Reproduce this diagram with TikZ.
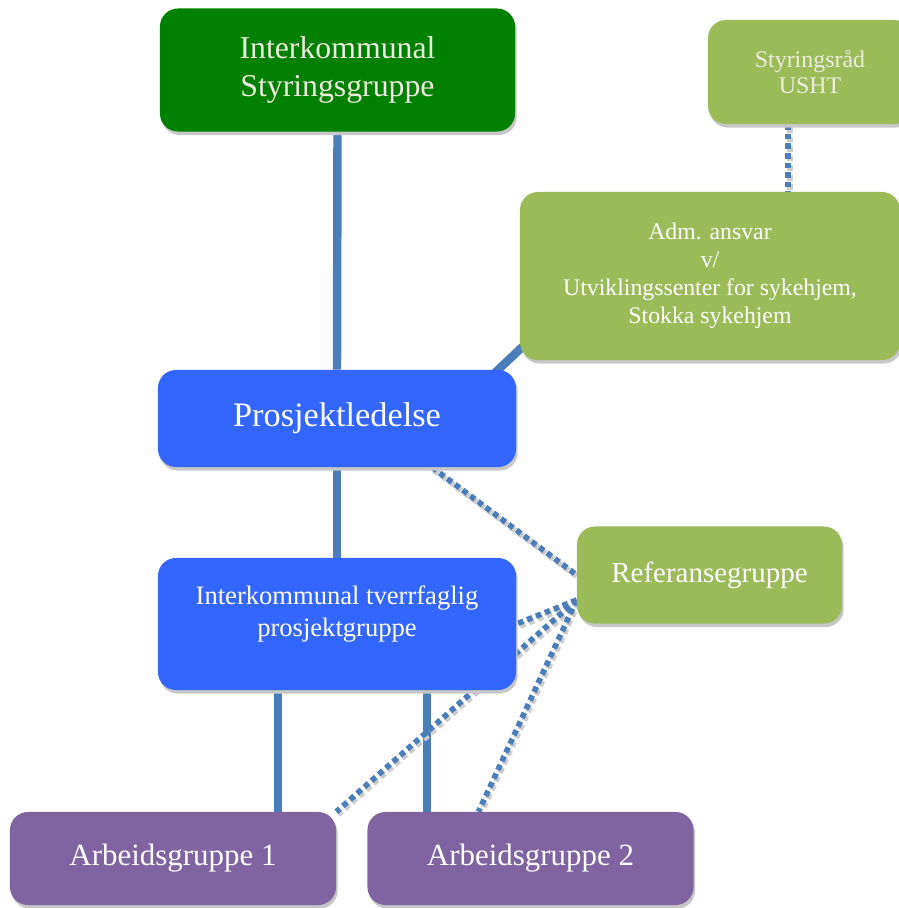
\documentclass[tikz,border=0pt]{standalone}
\usepackage{fontspec}
\setmainfont{Liberation Serif}
\usetikzlibrary {positioning, calc}
\usetikzlibrary {shadows, backgrounds}
\definecolor{topgreen}{HTML}{008000}
\definecolor{lightgreen}{HTML}{9BBB59}
\definecolor{projblue}{HTML}{3366FF}
\definecolor{workpurple}{HTML}{8064A2}
\definecolor{linkblue}{HTML}{4A7EBB}
\definecolor{paletext}{HTML}{EEECE1}
\tikzset{
    box/.style={rounded corners=0.45cm, align=center, inner sep=2pt,
        drop shadow={shadow xshift=1.2pt, shadow yshift=-2.5pt, fill=black!22, opacity=1}},
    solidlink/.style={line width=6pt, draw=linkblue},
    dotlink/.style={line width=4pt, draw=linkblue, dash pattern=on 4pt off 2.8pt},
    dotshade/.style={line width=4pt, draw=black!20, dash pattern=on 4pt off 2.8pt}
}

\begin{document}
\begin{tikzpicture}[x=0.025cm, y=-0.025cm]
\useasboundingbox (0,0) rectangle (899,908);
\clip (0,0) rectangle (899,908);
% top row
\node[box, fill=topgreen, text=paletext, minimum width=8.875cm, minimum height=3.075cm,
    font=\fontsize{22.6}{27}\selectfont] (stgr) at (337.5,70) {Interkommunal\\Styringsgruppe};
\node[box, fill=lightgreen, text=paletext, minimum width=5.1cm, minimum height=2.6cm,
    font=\fontsize{17}{19.1}\selectfont] (rad) at (810,72) {Styringsråd\\USHT};
\node[box, fill=lightgreen, text=white, minimum width=9.5cm, minimum height=4.2cm,
    font=\fontsize{16.9}{19.9}\selectfont] (adm) at (710,276)
    {Adm. ansvar\\v/\\Utviklingssenter for sykehjem,\\Stokka sykehjem};
% middle
\node[box, fill=projblue, text=white, minimum width=8.95cm, minimum height=2.425cm,
    font=\fontsize{24.4}{29}\selectfont] (pl) at (337,418.5) {Prosjektledelse};
\node[box, fill=projblue, text=white, minimum width=8.95cm, minimum height=3.3cm,
    font=\fontsize{18.9}{22.7}\selectfont] (pg) at (337,624)
    {Interkommunal tverrfaglig\\prosjektgruppe\\[-4pt]\mbox{}};
\node[box, fill=lightgreen, text=white, minimum width=6.625cm, minimum height=2.425cm,
    font=\fontsize{20.6}{24}\selectfont] (ref) at (709.5,575) {Referansegruppe};
% bottom row
\node[box, fill=workpurple, text=white, minimum width=8.15cm, minimum height=2.325cm,
    font=\fontsize{22}{26}\selectfont] (ag1) at (173,858.5) {Arbeidsgruppe 1};
\node[box, fill=workpurple, text=white, minimum width=8.15cm, minimum height=2.325cm,
    font=\fontsize{22}{26}\selectfont] (ag2) at (530.5,858.5) {Arbeidsgruppe 2};
% connectors
\begin{scope}[on background layer]
    \coordinate (p1) at ($(pg.south)+(-59,0)$);
    \coordinate (p2) at ($(pg.south)+(90,0)$);
    \coordinate (r1) at ($(rad.south)+(-22,0)$);
    \coordinate (rc) at ($(ref.west)+(0,25)$);
    \coordinate (pl1) at ($(pl.south)+(95,0)$);
    \coordinate (ag2a) at ($(ag2.north)+(-52,0)$);
    \draw[solidlink] (stgr.south) -- (pl.north);
    \draw[solidlink] (pl.south) -- (pg.north);
    \draw[solidlink] ($(pl.north east)+(-34,15)$) -- ($(adm.south west)+(15,-25)$);
    \draw[solidlink] (p1) -- (p1 |- ag1.north);
    \draw[solidlink] (p2) -- (p2 |- ag2.north);
    % dotted links with grey shade
    \begin{scope}[transform canvas={xshift=1.4pt, yshift=-2pt}]
        \draw[dotshade] (r1) -- (r1 |- adm.north);
        \draw[dotshade] (pl1) -- (ref.west);
        \draw[dotshade] (rc) -- (pg.east);
        \draw[dotshade] (rc) -- (ag1.north east);
        \draw[dotshade] (rc) -- (ag2a);
    \end{scope}
    \draw[dotlink] (r1) -- (r1 |- adm.north);
    \draw[dotlink] (pl1) -- (ref.west);
    \draw[dotlink] (rc) -- (pg.east);
    \draw[dotlink] (rc) -- (ag1.north east);
    \draw[dotlink] (rc) -- (ag2a);
\end{scope}
\end{tikzpicture}
\end{document}
